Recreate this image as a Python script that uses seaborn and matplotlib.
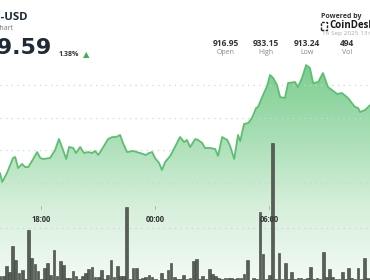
import numpy as np
import matplotlib
matplotlib.use("Agg")
import matplotlib.pyplot as plt
import seaborn as sns
from matplotlib.patches import Polygon, Rectangle
from matplotlib.colors import LinearSegmentedColormap

# ---- data (time in minutes relative to 18:00, price in USD) ----
line_minutes = [-130, -123, -108, -89, -82, -73, -60, -51, -41, -29, -13, -3, 6, 28, 44, 56, 69, 79, 88,
                101, 110, 123, 135, 148, 161, 170, 180, 196, 211, 224, 236, 249, 258, 271, 290, 312, 330,
                340, 350, 359, 372, 381, 391, 407, 422, 438, 451, 460, 470, 486, 495, 508, 517, 533, 549,
                558, 571, 587, 596, 609, 621, 628, 640, 653, 665, 678, 684, 700, 713, 722, 732, 744, 754,
                769, 779, 801, 810, 823, 836, 848, 858, 874, 889, 905, 934, 949, 968, 990, 1000, 1006,
                1022, 1038]
line_price = [916.46, 915.08, 916.46, 918.77, 918.92, 917.23, 917.85, 917.38, 917.38, 918.31, 919.69,
              918.77, 918.62, 918.77, 920.00, 921.69, 920.00, 918.62, 920.46, 920.31, 919.54, 920.46,
              919.54, 919.69, 919.54, 919.85, 919.23, 920.46, 921.69, 922.00, 922.00, 922.31, 921.08,
              919.69, 919.85, 919.54, 919.23, 919.54, 919.69, 918.77, 918.00, 916.92, 918.15, 919.08,
              920.46, 922.00, 921.23, 921.54, 920.46, 921.69, 921.54, 921.08, 920.31, 920.31, 920.15,
              919.08, 922.00, 921.54, 920.62, 918.62, 922.31, 921.38, 924.00, 924.15, 924.92, 926.46,
              926.62, 928.46, 929.85, 931.54, 931.08, 930.00, 928.15, 928.00, 930.31, 930.46, 929.69,
              931.08, 933.08, 932.62, 930.31, 930.46, 931.85, 929.69, 928.62, 928.77, 928.00, 926.62,
              926.46, 925.85, 926.15, 926.92]

bar_minutes = list(range(-130, 1041, 10))
bar_volume = [6, 6, 16, 10, 36, 22, 9, 12, 3, 52, 24, 18, 11, 3, 14, 19, 7, 32, 6, 21, 17, 4, 4, 11, 6, 3,
              6, 9, 13, 15, 5, 5, 12, 3, 7, 22, 5, 16, 6, 6, 75, 3, 14, 14, 3, 4, 5, 7, 5, 3, 2, 9, 3, 12,
              19, 5, 3, 3, 7, 3, 4, 21, 23, 3, 6, 3, 13, 8, 6, 4, 3, 4, 4, 4, 3, 4, 4, 8, 22, 2, 4, 3, 70,
              28, 3, 7, 139, 3, 29, 3, 19, 3, 10, 3, 4, 4, 3, 4, 15, 3, 4, 3, 30, 5, 13, 5, 3, 3, 10, 3,
              14, 4, 3, 14, 3, 24, 4, 3]

tick_minutes = [0, 360, 720]
tick_labels = ["18:00", "00:00", "06:00"]
grid_prices = [915, 920, 925, 930]

header_stats = ["916.95", "933.15", "913.24", "494"]
header_names = ["Open", "High", "Low", "Vol"]

W, H = 370, 280
sns.set_theme(style="white")
plt.rcParams["font.family"] = ["Open Sans", "DejaVu Sans"]

fig = plt.figure(figsize=(W / 100, H / 100), dpi=100)
fig.patch.set_facecolor("white")
ax = fig.add_axes([0, 0, 1, 1])
XMIN, XMAX = -130, 1037.5
YMIN, YMAX = 900.0, 943.08
ax.set_xlim(XMIN, XMAX)
ax.set_ylim(YMIN, YMAX)
ax.axis("off")

# gradient area under the line
xs = np.array(line_minutes, dtype=float)
ys = np.array(line_price, dtype=float)
poly_pts = [(xs[0] - 5, YMIN)] + list(zip(xs, ys)) + [(xs[-1] + 5, YMIN)]
poly = Polygon(poly_pts, closed=True, facecolor="none", edgecolor="none")
ax.add_patch(poly)
cmap = LinearSegmentedColormap.from_list("g", ["#f3faf4", "#d6efdb", "#a6deb3", "#78cc8c"])
grad = np.linspace(0, 1, 256).reshape(-1, 1)
im = ax.imshow(grad, extent=[XMIN, XMAX, YMIN, 934], origin="lower", aspect="auto",
               cmap=cmap, zorder=1, interpolation="bicubic")
im.set_clip_path(poly)
ax.set_xlim(XMIN, XMAX)
ax.set_ylim(YMIN, YMAX)

sns.lineplot(x=line_minutes, y=line_price, ax=ax, color="#5cbf70", linewidth=1.3, zorder=4)
ax.set_xlim(XMIN, XMAX)
ax.set_ylim(YMIN, YMAX)

for gp in grid_prices:
    ax.axhline(gp, color="#cfd4cf", linewidth=0.9, linestyle=(0, (1, 3.5)), zorder=3)

# volume axis
ax2 = ax.twinx()
ax2.set_position([0, 0, 1, 1])
sns.barplot(x=bar_minutes, y=bar_volume, native_scale=True, ax=ax2, color="#585e58",
            saturation=1, width=0.85, errorbar=None, edgecolor="#3a403a", linewidth=0.4)
ax2.set_xlim(XMIN, XMAX)
ax2.set_ylim(2, 282)
ax2.axhline(54, color="#cfd4cf", linewidth=0.9, linestyle=(0, (1, 3.5)), zorder=0)
ax2.axis("off")


def px(x, y):
    return x / W, 1 - y / H


# time labels and ticks
for tm, tl in zip(tick_minutes, tick_labels):
    xf = (tm - XMIN) / (XMAX - XMIN)
    fig.text(xf, 1 - 219 / H, tl, ha="center", va="center", fontsize=5.5,
             fontweight="bold", color="#333333")
    fig.add_artist(plt.Line2D([xf, xf], [1 - 206 / H, 1 - 209 / H], color="#aaaaaa", linewidth=0.6))

# header
fig.text(*px(27.5, 18), "BNB-USD", ha="right", va="center", fontsize=8.2, fontweight="bold", color="#1f2a36")
fig.text(*px(13, 28), "Price Chart", ha="right", va="center", fontsize=5, color="#777777")
fig.text(*px(52, 48), "929.59", ha="right", va="center", fontsize=16, fontweight="bold", color="#1f2a36",
         family=["DejaVu Sans"])
fig.text(*px(58.5, 55), "1.38%", ha="left", va="center", fontsize=5, fontweight="bold", color="#333333")
fig.text(*px(86, 55), "▲", ha="center", va="center", fontsize=6, color="#3cb054",
         family=["DejaVu Sans"])

stat_x = [226, 266, 307, 347]
for sx, sv, sn in zip(stat_x, header_stats, header_names):
    fig.text(*px(sx, 43.5), sv, ha="center", va="center", fontsize=6, fontweight="bold", color="#333333")
    fig.text(*px(sx, 52.5), sn, ha="center", va="center", fontsize=5, color="#888888")

fig.text(*px(321, 16), "Powered by", ha="left", va="center", fontsize=5, fontweight="bold", color="#333333")
fig.add_artist(Rectangle(px(321, 29.5), 6 / W, 7 / H, transform=fig.transFigure, fill=False,
                         edgecolor="#222222", linewidth=1.0, linestyle=(0, (2, 1))))
fig.text(*px(329, 25.5), "CoinDesk", ha="left", va="center", fontsize=7, fontweight="bold", color="#1a1a1a")
fig.text(*px(322, 34), "16 Sep 2025 13:00 UTC", ha="left", va="center", fontsize=4.6, color="#aaaaaa")

fig.savefig("out.png", dpi=100, facecolor="white")
